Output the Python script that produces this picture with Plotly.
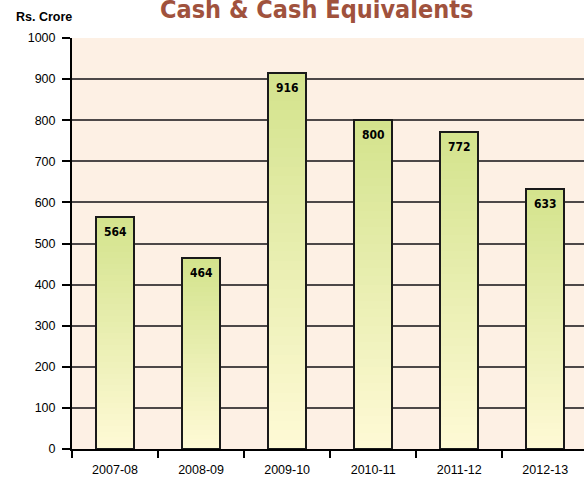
import plotly.graph_objects as go
import numpy as np

categories = ["2007-08", "2008-09", "2009-10", "2010-11", "2011-12", "2012-13"]
values = [564, 464, 916, 800, 772, 633]
y_ticks = [0, 100, 200, 300, 400, 500, 600, 700, 800, 900, 1000]

N = 40
top_rgb = np.array([211, 227, 140])
bot_rgb = np.array([255, 250, 214])
vals = np.array(values, dtype=float)

COND = "DejaVu Sans Condensed, Liberation Sans Narrow, Arial Narrow, sans-serif"

fig = go.Figure()
for k in range(N):
    t = (k + 0.5) / N
    c = bot_rgb + (top_rgb - bot_rgb) * t
    fig.add_trace(go.Bar(
        x=categories, y=vals / N, width=0.44,
        marker=dict(color=f"rgb({c[0]:.0f},{c[1]:.0f},{c[2]:.0f})", line=dict(width=0)),
        hoverinfo="skip", showlegend=False, xaxis="x", yaxis="y",
    ))
# outline
fig.add_trace(go.Bar(
    x=categories, y=values, width=0.44,
    marker=dict(color="rgba(0,0,0,0)", line=dict(color="#1a1a1a", width=2)),
    showlegend=False, xaxis="x2", yaxis="y",
))

for c, v in zip(categories, values):
    fig.add_annotation(x=c, y=v, text=f"<b>{v}</b>", showarrow=False,
                       yanchor="top", yshift=-6, xref="x", yref="y",
                       font=dict(family=COND, size=12, color="black"))

fig.add_annotation(x=0.477, y=1, xref="paper", yref="paper", yanchor="bottom", yshift=12,
                   text="<b>Cash & Cash Equivalents</b>", showarrow=False,
                   font=dict(family=COND, size=25, color="#A0523D"))
fig.add_annotation(x=-0.114, y=1, xref="paper", yref="paper", xanchor="left", yanchor="bottom", yshift=12,
                   text="<b>Rs. Crore</b>", showarrow=False,
                   font=dict(family="Liberation Sans, Arial, sans-serif", size=12.5, color="black"))

fig.update_layout(
    width=584, height=481,
    margin=dict(l=72, r=0, t=38, b=32),
    paper_bgcolor="white", plot_bgcolor="#FDF0E4",
    barmode="stack", bargap=0,
    font=dict(family="Liberation Sans, Arial, sans-serif", size=12, color="black"),
    xaxis=dict(type="category", range=[-0.5, 5.45], showgrid=False, showline=True, linecolor="black", linewidth=2,
               ticks="outside", ticklen=7, tickwidth=1.5, tickcolor="black", tickson="boundaries",
               ticklabelstandoff=8, tickfont=dict(size=12.5)),
    xaxis2=dict(type="category", range=[-0.5, 5.45], overlaying="x", visible=False, matches="x"),
    yaxis=dict(range=[0, 1000], tickvals=y_ticks, showgrid=True, gridcolor="#4d4848", gridwidth=1.5,
               showline=True, linecolor="black", linewidth=2, ticks="outside", ticklen=8, tickwidth=1.5,
               tickcolor="black", zeroline=False, ticklabelstandoff=4, tickfont=dict(size=12.5)),
)

fig.write_html("out.html")
